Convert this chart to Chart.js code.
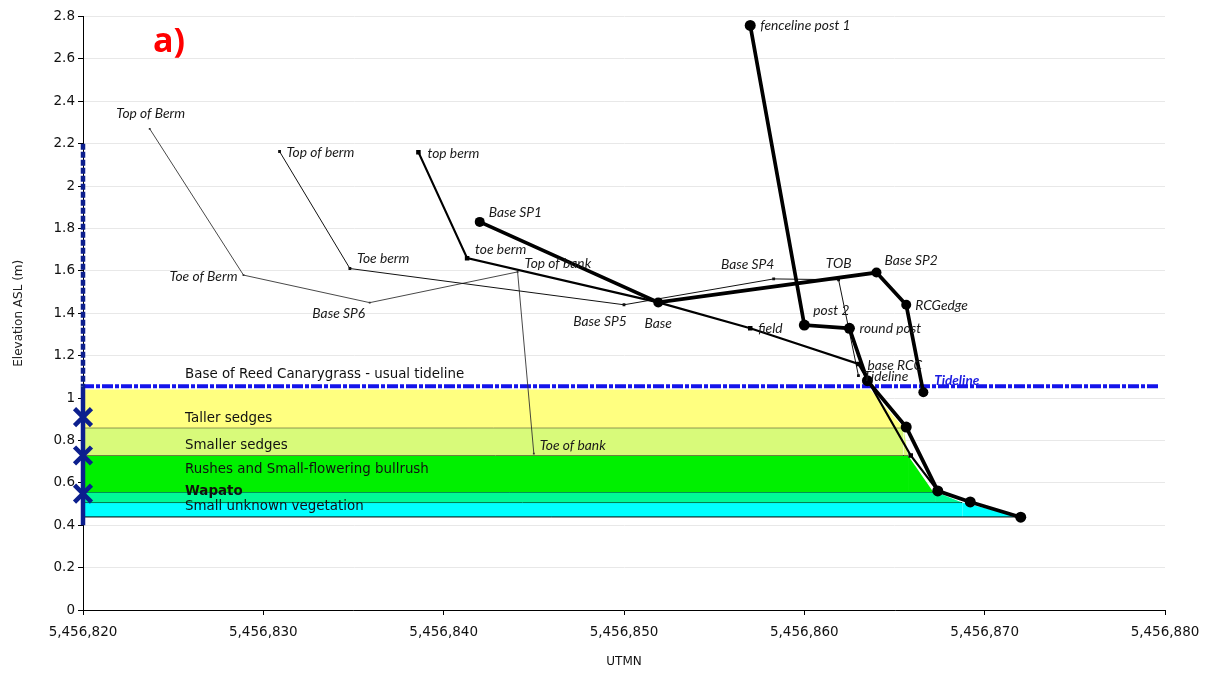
<!DOCTYPE html>
<html>
<head>
<meta charset="utf-8">
<title>Elevation profile - UTMN</title>
<script src="https://cdn.jsdelivr.net/npm/chart.js@4.4.1/dist/chart.umd.min.js"></script>
<style>
  html, body { margin: 0; padding: 0; background: #fff; }
  #wrap { width: 1205px; height: 675px; position: relative; }
</style>
</head>
<body>
<div id="wrap"><canvas id="chart"></canvas></div>
<script>
// survey profiles (UTMN, elevation m)
const profA_x = [5456823.7, 5456828.9, 5456835.9, 5456844.1, 5456845.0];
const profA_y = [2.27, 1.58, 1.45, 1.595, 0.738];
const profA_labels = ["Top of Berm", "Toe of Berm", "Base SP6", "Top of bank", "Toe of bank"];

const profB_x = [5456830.9, 5456834.8, 5456850.0, 5456858.3, 5456861.9, 5456863.0];
const profB_y = [2.163, 1.611, 1.44, 1.562, 1.558, 1.106];
const profB_labels = ["Top of berm", "Toe berm", "Base SP5", "Base SP4", "TOB", "Tideline"];

const profC_x = [5456838.6, 5456841.3, 5456851.9, 5456857.0, 5456863.0, 5456865.9, 5456867.4];
const profC_y = [2.16, 1.66, 1.451, 1.329, 1.161, 0.729, 0.562];
const profC_labels = ["top berm", "toe berm", "Base", "field", "base RCC", "", ""];

const profD_x = [5456842.0, 5456851.9, 5456864.0, 5456865.65, 5456866.6];
const profD_y = [1.831, 1.451, 1.592, 1.44, 1.027];
const profD_labels = ["Base SP1", "", "Base SP2", "RCGedge", ""];

const profE_x = [5456857.0, 5456860.0, 5456862.5, 5456863.5, 5456865.65, 5456867.4, 5456869.2, 5456872.0];
const profE_y = [2.758, 1.344, 1.329, 1.082, 0.863, 0.562, 0.51, 0.438];
const profE_labels = ["fenceline post 1", "post 2", "round post", "", "", "", "", ""];

// vegetation bands
const bandNames = ["Taller sedges", "Smaller sedges", "Rushes and Small-flowering bullrush", "Wapato", "Small unknown vegetation"];
const bandTop = [1.04, 0.86, 0.729, 0.557, 0.507];
const bandBottom = [0.86, 0.729, 0.557, 0.507, 0.439];
const bandRightTop = [5456863.65, 5456865.5, 5456865.75, 5456867.3, 5456868.75];
const bandRightBottom = [5456865.5, 5456865.75, 5456867.15, 5456868.75, 5456872.0];
const bandLabelY = [0.905, 0.776, 0.662, 0.557, 0.486];
const bandLabelX = 5456825.66;
const reedLabel = "Base of Reed Canarygrass - usual tideline";
const reedLabelY = 1.111;

// tideline and vertical range marker
const tideY = 1.056;
const tideX = [5456820, 5456879.7];
const tideLabel = "Tideline";
const tideLabelX = 5456867.2;
const riseTopY = 2.2;
const riseBottomY = 0.4;
const starY = [0.91, 0.729, 0.549];

const xTicks = [5456820, 5456830, 5456840, 5456850, 5456860, 5456870, 5456880];

// styling (label offsets in px: dx, dy, align)
const offA = [[1, -15, "center"], [-6, 1, "right"], [-31, 11, "center"], [7, -8, "left"], [6, -8, "left"]];
const offB = [[7, 1, "left"], [7, -10, "left"], [-24, 17, "center"], [-26, -14, "center"], [0, -16, "center"], [5, 1, "left"]];
const offC = [[9, 1, "left"], [8, -9, "left"], [0, 21, "center"], [8, 0, "left"], [9, 2, "left"], null, null];
const offD = [[9, -9, "left"], null, [8, -12, "left"], [9, 1, "left"], null];
const offE = [[10, 0, "left"], [9, -15, "left"], [10, 0, "left"], null, null, null, null, null];
const bandColors = ["#ffff80", "#d8fa7a", "#00f000", "#00fa96", "#00ffff"];
const bandEdge = ["rgba(0,0,0,0)", "#000", "#000", "#000", "#000"];
const navy = "#0c1f8e";

const pts = (xs, ys) => xs.map((x, i) => ({x: x, y: ys[i]}));

function profile(xs, ys, labels, offs, width, radius, style, color) {
  return {
    data: pts(xs, ys), showLine: true, borderColor: color, backgroundColor: color,
    borderWidth: width, pointRadius: radius, pointStyle: style, pointBorderWidth: 0,
    pointLabels: labels, labelOffsets: offs, fill: false, order: 1
  };
}

const datasets = [
  profile(profE_x, profE_y, profE_labels, offE, 3.7, 5.5, "circle", "#000"),
  profile(profD_x, profD_y, profD_labels, offD, 3.7, 5, "circle", "#000"),
  profile(profC_x, profC_y, profC_labels, offC, 2.2, 3.2, "rect", "#000"),
  profile(profB_x, profB_y, profB_labels, offB, 1, 2, "rect", "#111"),
  profile(profA_x, profA_y, profA_labels, offA, 0.9, 1.3, "rect", "#333"),
  { // stars on the range marker
    data: starY.map(y => ({x: tideX[0], y: y})), showLine: false, pointStyle: "crossRot",
    pointRadius: 12, pointBorderWidth: 4.5, borderColor: navy, backgroundColor: navy, clip: false, order: 2
  },
  {
    data: [{x: tideX[0], y: tideY}, {x: tideX[0], y: riseBottomY}], showLine: true, borderColor: navy,
    borderWidth: 4.5, pointRadius: 0, clip: false, order: 3
  },
  {
    data: [{x: tideX[0], y: riseTopY}, {x: tideX[0], y: tideY}], showLine: true, borderColor: navy,
    borderWidth: 4.5, borderDash: [6, 2], pointRadius: 0, clip: false, order: 3
  },
  {
    data: tideX.map(x => ({x: x, y: tideY})), showLine: true, borderColor: "#1414ea",
    borderWidth: 4, borderDash: [11, 2, 4, 2], pointRadius: 0, clip: false, order: 3
  },
  {
    data: [{x: tideX[0], y: bandBottom[4]}, {x: bandRightBottom[4], y: bandBottom[4]}], showLine: true,
    borderColor: "#000", borderWidth: 1, pointRadius: 0, order: 9
  }
];

bandNames.forEach((name, i) => {
  datasets.push({
    label: name,
    data: [{x: tideX[0], y: bandTop[i]}, {x: bandRightTop[i], y: bandTop[i]}, {x: bandRightBottom[i], y: bandBottom[i]}],
    showLine: true, pointRadius: 0, borderWidth: 1,
    fill: {value: bandBottom[i]}, backgroundColor: bandColors[i],
    segment: { borderColor: c => c.p0.parsed.y === c.p1.parsed.y ? bandEdge[i] : "rgba(0,0,0,0)" },
    order: 10
  });
});

const labelPlugin = {
  id: "labels",
  afterDatasetsDraw(chart) {
    const ctx = chart.ctx;
    const xs = chart.scales.x, ys = chart.scales.y;
    ctx.save();
    ctx.textBaseline = "middle";
    // point labels
    ctx.font = "italic 13.8px Lato";
    ctx.fillStyle = "#1a1a1a";
    chart.data.datasets.forEach((ds, i) => {
      if (!ds.pointLabels) return;
      chart.getDatasetMeta(i).data.forEach((p, j) => {
        const t = ds.pointLabels[j];
        if (!t) return;
        const o = ds.labelOffsets[j];
        ctx.textAlign = o[2];
        ctx.fillText(t, p.x + o[0], p.y + o[1]);
      });
    });
    // band labels
    ctx.textAlign = "left";
    ctx.fillStyle = "#111";
    const bx = xs.getPixelForValue(bandLabelX);
    ctx.font = "13.4px 'DejaVu Sans'";
    ctx.fillText(reedLabel, bx, ys.getPixelForValue(reedLabelY));
    bandNames.forEach((n, i) => {
      ctx.font = (n === "Wapato" ? "bold " : "") + "13.4px 'DejaVu Sans'";
      ctx.fillText(n, bx, ys.getPixelForValue(bandLabelY[i]));
    });
    // tideline label
    ctx.font = "italic bold 13.5px Lato";
    ctx.fillStyle = "#1a1ae0";
    ctx.fillText(tideLabel, xs.getPixelForValue(tideLabelX), ys.getPixelForValue(tideY) - 6);
    // panel letter
    ctx.font = "bold 34px 'Open Sans'";
    ctx.fillStyle = "#ff0000";
    ctx.textAlign = "center";
    ctx.fillText("a)", chart.chartArea.left + 86, chart.chartArea.top + 26);
    ctx.restore();
  }
};

new Chart(document.getElementById("chart"), {
  type: "scatter",
  data: { datasets: datasets },
  options: {
    responsive: true,
    maintainAspectRatio: false,
    animation: false,
    layout: { padding: { top: 15, right: 40, left: 0, bottom: 0 } },
    plugins: { legend: { display: false }, tooltip: { enabled: false } },
    scales: {
      x: {
        type: "linear", min: xTicks[0], max: xTicks[xTicks.length - 1],
        afterFit: s => { s.height = 65; s.paddingLeft = 0; s.paddingRight = 0; },
        afterBuildTicks: s => { s.ticks = xTicks.map(v => ({value: v})); },
        ticks: {
          font: { family: "DejaVu Sans", size: 13.5 }, color: "#111", padding: 9, maxRotation: 0,
          callback: v => v.toLocaleString("en-US")
        },
        grid: { drawOnChartArea: false, tickColor: "#000", tickLength: 5 },
        border: { color: "#000", width: 1 },
        title: { display: true, text: "UTMN", font: { family: "DejaVu Sans", size: 12 }, color: "#111", padding: { top: 0, bottom: 6 } }
      },
      y: {
        min: 0, max: 2.8,
        afterFit: s => { s.width = 83; s.paddingTop = 0; s.paddingBottom = 0; },
        ticks: {
          stepSize: 0.2, font: { family: "DejaVu Sans", size: 13.5 }, color: "#111", padding: 3,
          callback: v => String(+v.toFixed(1))
        },
        grid: { color: "#e8e8e8", tickColor: "#000", tickLength: 5 },
        border: { color: "#000", width: 1 },
        title: { display: true, text: "Elevation ASL (m)", font: { family: "DejaVu Sans", size: 12 }, color: "#222", padding: { top: 12, bottom: 0 } }
      }
    }
  },
  plugins: [labelPlugin]
});
</script>
</body>
</html>
